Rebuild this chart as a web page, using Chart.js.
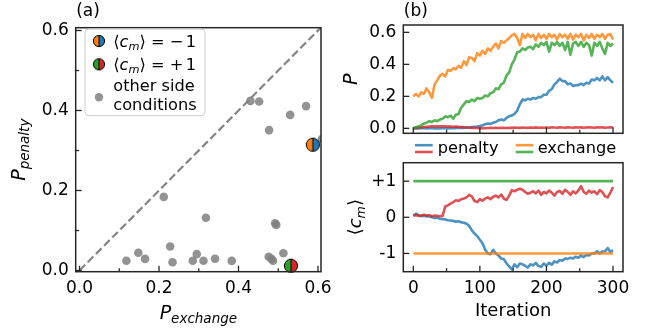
<!DOCTYPE html>
<html><head><meta charset="utf-8">
<script src="https://cdn.jsdelivr.net/npm/chart.js@4.4.0/dist/chart.umd.min.js"></script>
<style>
html,body{margin:0;padding:0;background:#fff;}
#wrap{position:relative;width:657px;height:331px;overflow:hidden;background:#fff;}
canvas{position:absolute;left:0;top:0;}
</style></head><body>
<div id="wrap">
<canvas id="cA" width="657" height="331"></canvas>
<canvas id="cB" width="657" height="331"></canvas>
<canvas id="cC" width="657" height="331"></canvas>
</div>
<script>
// ---------- data: panel (a) ----------
const otherX = [0.430,0.452,0.570,0.530,0.477,0.610,0.212,0.318,0.495,0.492,0.228,0.148,0.118,0.165,0.234,0.285,0.295,0.312,0.341,0.383,0.476,0.487,0.483,0.513];
const otherY = [0.424,0.4225,0.411,0.389,0.351,0.329,0.184,0.132,0.114,0.118,0.060,0.0445,0.0245,0.029,0.0205,0.0245,0.041,0.0245,0.0295,0.024,0.0345,0.0245,0.029,0.043];
const minusX = [0.587], minusY = [0.3145];   // <c_m> = -1
const plusX = [0.532],  plusY = [0.012];     // <c_m> = +1
const diagX = [0, 0.62], diagY = [0, 0.62];
const ticksA = [0, 0.2, 0.4, 0.6], labelsA = ['0.0','0.2','0.4','0.6'], minorA = [0.1, 0.3, 0.5];

// ---------- data: panel (b) ----------
const iterations = [0,4,8,12,16,20,24,28,32,36,40,44,48,52,56,60,64,68,72,76,80,84,88,92,96,100,104,108,112,116,120,124,128,132,136,140,144,148,152,156,160,164,168,172,176,180,184,188,192,196,200,204,208,212,216,220,224,228,232,236,240,244,248,252,256,260,264,268,272,276,280,284,288,292,296,300];
const pExchMinus = [0.20,0.215,0.20,0.225,0.215,0.25,0.225,0.19,0.275,0.30,
 0.33,0.34,0.325,0.365,0.36,0.375,0.37,0.39,0.38,0.42,
 0.395,0.445,0.44,0.42,0.47,0.455,0.485,0.465,0.50,0.485,
 0.51,0.53,0.50,0.545,0.535,0.55,0.565,0.58,0.59,0.565,
 0.52,0.59,0.565,0.59,0.57,0.585,0.55,0.59,0.565,0.585,
 0.56,0.59,0.57,0.585,0.555,0.59,0.57,0.585,0.56,0.59,
 0.555,0.585,0.57,0.59,0.55,0.585,0.565,0.59,0.56,0.585,
 0.57,0.59,0.56,0.585,0.59,0.555];
const pExchPlus = [0.0,0.008,0.012,0.02,0.03,0.035,0.045,0.04,0.05,0.045,
 0.055,0.06,0.075,0.07,0.08,0.06,0.085,0.09,0.13,0.15,
 0.17,0.165,0.18,0.17,0.19,0.185,0.19,0.205,0.2,0.22,
 0.225,0.25,0.245,0.275,0.285,0.33,0.35,0.40,0.43,0.475,
 0.48,0.50,0.49,0.505,0.51,0.495,0.525,0.51,0.535,0.52,
 0.54,0.48,0.535,0.52,0.54,0.515,0.535,0.49,0.54,0.46,
 0.53,0.54,0.515,0.54,0.51,0.535,0.52,0.455,0.535,0.515,
 0.54,0.50,0.465,0.535,0.515,0.53];
const pPenMinus = [0.0,0.001,0.0,0.002,0.001,0.0,0.001,0.002,0.0,0.001,
 0.0,0.002,0.001,0.0,0.002,0.001,0.003,0.002,0.004,0.003,
 0.005,0.006,0.008,0.01,0.012,0.015,0.02,0.025,0.03,0.028,
 0.035,0.04,0.05,0.055,0.05,0.065,0.075,0.08,0.09,0.11,
 0.15,0.18,0.175,0.185,0.18,0.19,0.185,0.195,0.195,0.21,
 0.21,0.235,0.245,0.275,0.29,0.31,0.295,0.295,0.275,0.28,
 0.265,0.27,0.27,0.28,0.27,0.285,0.28,0.305,0.30,0.315,
 0.30,0.325,0.30,0.32,0.30,0.285];
const pPenPlus = [0.0,0.003,0.005,0.006,0.008,0.01,0.011,0.012,0.012,0.013,
 0.012,0.013,0.012,0.011,0.012,0.01,0.011,0.009,0.008,0.006,
 0.005,0.004,0.003,0.002,0.002,0.001,0.002,0.001,0.002,0.003,
 0.002,0.003,0.002,0.004,0.003,0.002,0.004,0.003,0.005,0.004,
 0.003,0.005,0.004,0.003,0.005,0.004,0.006,0.004,0.005,0.004,
 0.005,0.004,0.006,0.005,0.004,0.006,0.005,0.004,0.006,0.005,
 0.004,0.006,0.005,0.006,0.004,0.005,0.006,0.005,0.004,0.006,
 0.005,0.006,0.004,0.005,0.006,0.005];
const ticksBY = [0, 0.2, 0.4, 0.6], labelsBY = ['0.0','0.2','0.4','0.6'];
const ticksIter = [0, 100, 200, 300], labelsIter = ['0','100','200','300'], minorIter = [50, 150, 250];

// ---------- data: panel (b) lower ----------
const cmPenPlus = [0.05,0.06,0.04,0.05,0.07,0.05,0.06,0.03,0.05,0.04,
 0.03,0.04,0.30,0.33,0.38,0.42,0.47,0.45,0.50,0.52,
 0.55,0.62,0.58,0.45,0.42,0.50,0.46,0.52,0.55,0.50,
 0.57,0.60,0.55,0.63,0.52,0.48,0.60,0.75,0.72,0.76,
 0.79,0.76,0.70,0.65,0.68,0.72,0.66,0.74,0.62,0.70,
 0.66,0.74,0.68,0.60,0.70,0.73,0.65,0.76,0.70,0.62,
 0.72,0.66,0.74,0.86,0.70,0.65,0.74,0.68,0.72,0.64,
 0.75,0.70,0.58,0.55,0.68,0.84];
const cmPenMinus = [0.04,0.10,0.06,0.03,0.04,0.02,0.03,0.0,-0.02,-0.01,
 -0.04,-0.05,-0.06,-0.08,-0.09,-0.10,-0.12,-0.11,-0.14,-0.15,
 -0.18,-0.24,-0.36,-0.45,-0.52,-0.62,-0.72,-0.90,-1.00,-1.02,
 -0.90,-1.00,-1.06,-1.14,-1.16,-1.27,-1.36,-1.44,-1.30,-1.38,
 -1.28,-1.30,-1.34,-1.39,-1.30,-1.33,-1.26,-1.35,-1.37,-1.28,
 -1.34,-1.26,-1.31,-1.22,-1.25,-1.18,-1.20,-1.14,-1.15,-1.12,
 -1.14,-1.09,-1.12,-1.06,-1.10,-1.04,-1.06,-1.00,-1.00,-0.94,
 -1.00,-0.95,-0.94,-0.85,-0.96,-0.91];
const constIters = [0, 300];
const cmExchPlus = [1, 1];
const cmExchMinus = [-1, -1];
const ticksCY = [-1, 0, 1], labelsCY = ['-1','0','+1'];

// ---------- styling ----------
const FONT = '"DejaVu Sans"';
const TICKFONT = {family: FONT, size: 17};
const BLUE = 'rgba(31,119,180,0.8)', ORANGE = 'rgba(255,127,14,0.8)', GREEN = 'rgba(44,160,44,0.8)', RED = 'rgba(214,39,40,0.8)';
const W = 657, H = 331;
Chart.defaults.font.family = FONT;

function pts(xs, ys) { return xs.map((x, i) => ({x: x, y: ys[i]})); }

function halfMarker(cl, cr, r) {
  const s = Math.ceil(2 * r + 2), c = document.createElement('canvas');
  c.width = s; c.height = s;
  const g = c.getContext('2d'), m = s / 2;
  g.beginPath(); g.moveTo(m, m - r); g.arc(m, m, r, -Math.PI / 2, Math.PI / 2, true); g.closePath(); g.fillStyle = cl; g.fill();
  g.beginPath(); g.moveTo(m, m - r); g.arc(m, m, r, -Math.PI / 2, Math.PI / 2, false); g.closePath(); g.fillStyle = cr; g.fill();
  g.lineWidth = 1; g.strokeStyle = '#000';
  g.beginPath(); g.arc(m, m, r, 0, 2 * Math.PI); g.stroke();
  g.beginPath(); g.moveTo(m, m - r); g.lineTo(m, m + r); g.stroke();
  return c;
}
const mkMinus = halfMarker('#ff7f0e', '#1f77b4', 6.6);
const mkPlus = halfMarker('#2ca02c', '#d62728', 6.6);
const mkMinusL = halfMarker('#ff7f0e', '#1f77b4', 5.6);
const mkPlusL = halfMarker('#2ca02c', '#d62728', 5.6);

function runsFont(r) { return (r.it ? 'italic ' : '') + r.size + 'px ' + FONT; }
function drawRuns(ctx, runs, x, y, rot, align) {
  ctx.save(); ctx.translate(x, y); ctx.rotate(rot || 0);
  ctx.fillStyle = '#000'; ctx.textBaseline = 'alphabetic'; ctx.textAlign = 'left';
  let w = 0;
  runs.forEach(r => { ctx.font = runsFont(r); w += ctx.measureText(r.t).width + (r.dx || 0); });
  let cx = align === 'center' ? -w / 2 : 0;
  runs.forEach(r => { ctx.font = runsFont(r); cx += (r.dx || 0); ctx.fillText(r.t, cx, r.dy || 0); cx += ctx.measureText(r.t).width; });
  ctx.restore();
}

// chart area edges (l,t,r,b) with axis box sizes (yw: y-axis width, xh: x-axis height)
function areaPad(l, t, r, b, yw, xh) { return {left: l - yw, top: t, right: W - r, bottom: H - b - xh}; }

function scaleOpts(min, max, ticks, labels, horizontal, showLabels, pad, size) {
  return {
    type: 'linear', min: min, max: max,
    afterFit: s => { if (horizontal) s.height = size; else s.width = size; },
    afterBuildTicks: s => { s.ticks = ticks.map(v => ({value: v})); },
    grid: {display: false, drawTicks: false},
    border: {display: false},
    ticks: {display: showLabels, font: TICKFONT, color: '#000', padding: pad, autoSkip: false, maxRotation: 0, minRotation: 0,
      callback: (v, i) => labels[i]}
  };
}

function framePlugin(xMaj, xMin, yMaj, yMin) {
  return {
    id: 'frame',
    afterDraw(chart) {
      const {ctx, chartArea: a, scales: {x, y}} = chart;
      ctx.save();
      ctx.strokeStyle = '#262626'; ctx.lineWidth = 1.3; ctx.lineCap = 'butt';
      const tx = (vals, len) => vals.forEach(v => { const p = x.getPixelForValue(v); ctx.beginPath(); ctx.moveTo(p, a.bottom); ctx.lineTo(p, a.bottom - len); ctx.stroke(); });
      const ty = (vals, len) => vals.forEach(v => { const p = y.getPixelForValue(v); ctx.beginPath(); ctx.moveTo(a.left, p); ctx.lineTo(a.left + len, p); ctx.stroke(); });
      tx(xMaj, 6); tx(xMin, 3.5); ty(yMaj, 6); ty(yMin, 3.5);
      ctx.lineWidth = 1.5;
      ctx.strokeRect(a.left, a.top, a.right - a.left, a.bottom - a.top);
      ctx.restore();
    }
  };
}

const common = {
  responsive: false, animation: false, devicePixelRatio: 1,
  plugins: {legend: {display: false}, tooltip: {enabled: false}},
  events: []
};

// ---------- chart (a) ----------
const textA = {
  id: 'textA',
  afterDraw(chart) {
    const ctx = chart.ctx, a = chart.chartArea;
    ctx.save();
    ctx.font = '17px ' + FONT; ctx.fillStyle = '#000'; ctx.textBaseline = 'middle'; ctx.textAlign = 'left';
    ctx.fillText('(a)', a.left + 0.5, 11.5);
    ctx.restore();
    drawRuns(ctx, [{t: 'P', size: 19, it: true}, {t: 'exchange', size: 13.5, it: true, dy: 4}], (a.left + a.right) / 2, 319, 0, 'center');
    drawRuns(ctx, [{t: 'P', size: 19, it: true}, {t: 'penalty', size: 13.5, it: true, dy: 4}], 25, (a.top + a.bottom) / 2, -Math.PI / 2, 'center');
    // legend box
    ctx.save();
    const bx = 85, by = 29, bw = 120, bh = 86.7, rr = 4;
    ctx.beginPath();
    ctx.moveTo(bx + rr, by); ctx.lineTo(bx + bw - rr, by); ctx.quadraticCurveTo(bx + bw, by, bx + bw, by + rr);
    ctx.lineTo(bx + bw, by + bh - rr); ctx.quadraticCurveTo(bx + bw, by + bh, bx + bw - rr, by + bh);
    ctx.lineTo(bx + rr, by + bh); ctx.quadraticCurveTo(bx, by + bh, bx, by + bh - rr);
    ctx.lineTo(bx, by + rr); ctx.quadraticCurveTo(bx, by, bx + rr, by); ctx.closePath();
    ctx.fillStyle = 'rgba(255,255,255,0.8)'; ctx.fill();
    ctx.strokeStyle = '#cccccc'; ctx.lineWidth = 1; ctx.stroke();
    ctx.drawImage(mkMinusL, 99 - mkMinusL.width / 2, 41 - mkMinusL.height / 2);
    ctx.drawImage(mkPlusL, 99 - mkPlusL.width / 2, 64.3 - mkPlusL.height / 2);
    ctx.beginPath(); ctx.arc(99, 97.3, 4.2, 0, 2 * Math.PI); ctx.fillStyle = 'rgba(128,128,128,0.85)'; ctx.fill();
    ctx.restore();
    const L = 16.2, S = 11.3;
    const lbl = (sign, yb) => drawRuns(ctx, [
      {t: '\u27E8', size: L}, {t: 'c', size: L, it: true}, {t: 'm', size: S, it: true, dy: 3},
      {t: '\u27E9', size: L}, {t: ' = ', size: L}, {t: sign, size: L}, {t: '1', size: L, dx: 2.5}], 113.3, yb, 0, 'left');
    lbl('\u2212', 46.8); lbl('+', 70.1);
    ctx.save();
    ctx.font = L + 'px ' + FONT; ctx.fillStyle = '#000'; ctx.textBaseline = 'middle'; ctx.textAlign = 'left';
    ctx.fillText('other side', 113.3, 87);
    ctx.fillText('conditions', 113.3, 105.3);
    ctx.restore();
  }
};

new Chart(document.getElementById('cA'), {
  type: 'scatter',
  data: {datasets: [
    {data: pts(minusX, minusY), pointStyle: mkMinus, pointRadius: 7, order: 0, clip: false},
    {data: pts(plusX, plusY), pointStyle: mkPlus, pointRadius: 7, order: 0, clip: false},
    {data: pts(otherX, otherY), pointRadius: 4.3, backgroundColor: 'rgba(128,128,128,0.85)', borderWidth: 0, order: 1, clip: 0},
    {data: pts(diagX, diagY), showLine: true, pointRadius: 0, borderColor: '#858585', borderWidth: 2.2, borderDash: [8, 3.6], order: 2, clip: 0}
  ]},
  options: Object.assign({}, common, {
    layout: {padding: areaPad(75.7, 27.7, 321, 271.7, 70, 35)},
    scales: {
      x: scaleOpts(-0.0096, 0.6076, ticksA, labelsA, true, true, 7, 35),
      y: scaleOpts(-0.003, 0.607, ticksA, labelsA, false, true, 7, 70)
    }
  }),
  plugins: [framePlugin(ticksA, minorA, ticksA, minorA), textA]
});

// ---------- chart (b) top ----------
const lineDs = (ys, col, xs) => ({data: pts(xs || iterations, ys), showLine: true, pointRadius: 0, borderColor: col, borderWidth: 2.6, borderJoinStyle: 'round', borderCapStyle: 'butt'});

const textB = {
  id: 'textB',
  afterDraw(chart) {
    const ctx = chart.ctx, a = chart.chartArea;
    ctx.save();
    ctx.font = '17px ' + FONT; ctx.fillStyle = '#000'; ctx.textBaseline = 'middle'; ctx.textAlign = 'left';
    ctx.fillText('(b)', a.left + 0.5, 11.5);
    ctx.restore();
    drawRuns(ctx, [{t: 'P', size: 19, it: true}], 357, (a.top + a.bottom) / 2, -Math.PI / 2, 'center');
    // legend between panels
    ctx.save();
    ctx.lineWidth = 2.6;
    const handle = (x0, x1, c1, c2) => {
      ctx.strokeStyle = c1; ctx.beginPath(); ctx.moveTo(x0, 145.2); ctx.lineTo(x1, 145.2); ctx.stroke();
      ctx.strokeStyle = c2; ctx.beginPath(); ctx.moveTo(x0, 152); ctx.lineTo(x1, 152); ctx.stroke();
    };
    handle(415, 432.7, BLUE, RED);
    handle(515.7, 533.3, ORANGE, GREEN);
    ctx.font = '16.2px ' + FONT; ctx.fillStyle = '#000'; ctx.textBaseline = 'middle'; ctx.textAlign = 'left';
    ctx.fillText('penalty', 437.7, 148.4);
    ctx.fillText('exchange', 537.7, 148.4);
    ctx.restore();
  }
};

new Chart(document.getElementById('cB'), {
  type: 'scatter',
  data: {datasets: [
    lineDs(pPenMinus, BLUE), lineDs(pPenPlus, RED), lineDs(pExchPlus, GREEN), lineDs(pExchMinus, ORANGE)
  ].map((d, i) => Object.assign(d, {order: 4 - i}))},
  options: Object.assign({}, common, {
    layout: {padding: areaPad(403.3, 25, 623, 133.3, 60, 0)},
    scales: {
      x: scaleOpts(-15, 315, ticksIter, labelsIter, true, false, 7, 0),
      y: scaleOpts(-0.031, 0.646, ticksBY, labelsBY, false, true, 7, 60)
    }
  }),
  plugins: [framePlugin(ticksIter, minorIter, ticksBY, []), textB]
});

// ---------- chart (b) bottom ----------
const textC = {
  id: 'textC',
  afterDraw(chart) {
    const ctx = chart.ctx, a = chart.chartArea;
    drawRuns(ctx, [{t: '\u27E8', size: 18}, {t: 'c', size: 18, it: true}, {t: 'm', size: 12.6, it: true, dy: 3.5}, {t: '\u27E9', size: 18}], 361, (a.top + a.bottom) / 2, -Math.PI / 2, 'center');
    ctx.save();
    ctx.font = '18px ' + FONT; ctx.fillStyle = '#000'; ctx.textBaseline = 'middle'; ctx.textAlign = 'center';
    ctx.fillText('Iteration', (a.left + a.right) / 2, 311.7);
    ctx.restore();
  }
};

new Chart(document.getElementById('cC'), {
  type: 'scatter',
  data: {datasets: [
    lineDs(cmPenMinus, BLUE), lineDs(cmPenPlus, RED), lineDs(cmExchPlus, GREEN, constIters), lineDs(cmExchMinus, ORANGE, constIters)
  ].map((d, i) => Object.assign(d, {order: 4 - i}))},
  options: Object.assign({}, common, {
    layout: {padding: areaPad(403.3, 162.7, 623, 271.7, 60, 35)},
    scales: {
      x: scaleOpts(-15, 315, ticksIter, labelsIter, true, true, 7, 35),
      y: scaleOpts(-1.505, 1.51, ticksCY, labelsCY, false, true, 7, 60)
    }
  }),
  plugins: [framePlugin(ticksIter, minorIter, ticksCY, []), textC]
});
</script>
</body></html>
